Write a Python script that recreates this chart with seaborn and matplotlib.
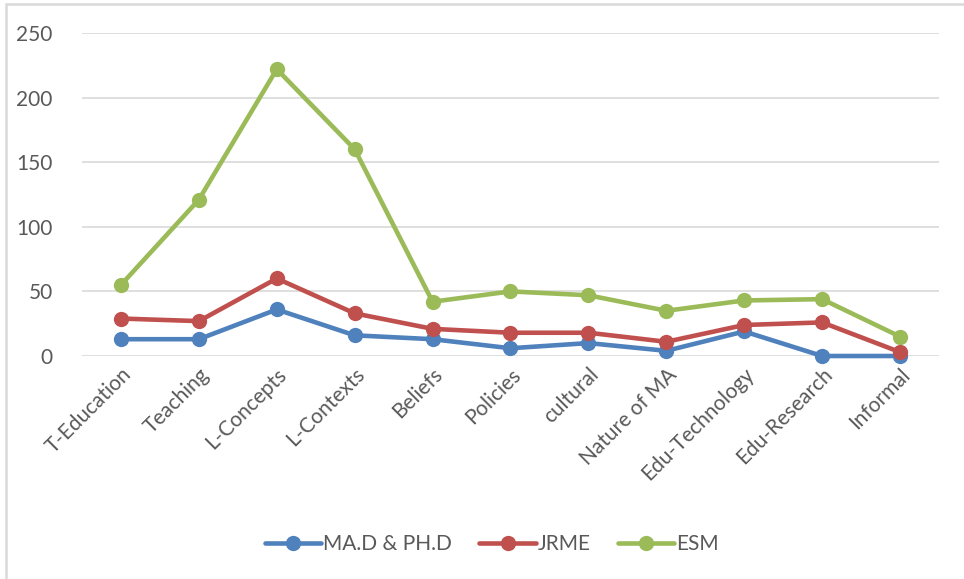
import matplotlib
matplotlib.use("Agg")
import matplotlib.pyplot as plt
import seaborn as sns
import pandas as pd
from matplotlib.patches import Rectangle
from matplotlib.lines import Line2D

categories = ["T-Education", "Teaching", "L-Concepts", "L-Contexts", "Beliefs",
              "Policies", "cultural", "Nature of MA", "Edu-Technology",
              "Edu-Research", "Informal"]
ma_phd = [13, 13, 36, 16, 13, 6, 10, 4, 19, 0, 0]
jrme = [29, 27, 60, 33, 21, 18, 18, 11, 24, 26, 3]
esm = [55, 121, 222, 160, 42, 50, 47, 35, 43, 44, 15]
series_names = ["MA.D & PH.D", "JRME", "ESM"]
y_ticks = [0, 50, 100, 150, 200, 250]

colors = ["#4F81BD", "#C0504D", "#9BBB59"]

frames = []
for name, vals in zip(series_names, [ma_phd, jrme, esm]):
    frames.append(pd.DataFrame({"category": categories, "count": vals, "series": name}))
df = pd.concat(frames, ignore_index=True)

sns.set_theme(style="white")
plt.rcParams["font.family"] = ["Lato", "DejaVu Sans"]
text_color = "#595959"
fs = 15

fig = plt.figure(figsize=(9.64, 5.79), dpi=100)
ax = fig.add_axes([82 / 964, 1 - 356 / 579, (939 - 82) / 964, (356 - 33) / 579])

sns.lineplot(data=df, x="category", y="count", hue="series", hue_order=series_names,
             palette=colors, marker="o", markersize=11, markeredgewidth=0,
             linewidth=3.3, sort=False, legend=False, ax=ax, zorder=3)

ax.set_xlim(-0.5, len(categories) - 0.5)
ax.set_ylim(0, 250)
ax.set_yticks(y_ticks)
ax.set_yticklabels([str(t) for t in y_ticks], fontsize=fs, color=text_color)
ax.set_xticks(range(len(categories)))
ax.set_xticklabels(categories, rotation=45, ha="right", rotation_mode="anchor",
                   fontsize=fs, color=text_color)
ax.tick_params(axis="both", length=0)
ax.tick_params(axis="y", pad=21)
ax.tick_params(axis="x", pad=6)
ax.set_xlabel("")
ax.set_ylabel("")
ax.grid(axis="y", color="#D9D9D9", linewidth=1.2)
ax.set_axisbelow(True)
for s in ax.spines.values():
    s.set_visible(False)
for line in ax.lines:
    line.set_clip_on(False)

handles = [Line2D([0], [0], color=c, lw=3.3, marker="o", markersize=11,
                  markeredgewidth=0) for c in colors]
fig.legend(handles, series_names, loc="center", bbox_to_anchor=(492 / 964, 1 - 544 / 579),
           ncol=3, frameon=False, fontsize=fs, labelcolor=text_color,
           handlelength=2.7, handletextpad=0.1, columnspacing=1.3)

fig.patches.append(Rectangle((6 / 964, -0.1), 1.2, 1 - 4 / 579 + 0.1,
                             transform=fig.transFigure, fill=False,
                             edgecolor="#D9D9D9", linewidth=1.8))

fig.savefig("out.png", dpi=100, facecolor="white")
